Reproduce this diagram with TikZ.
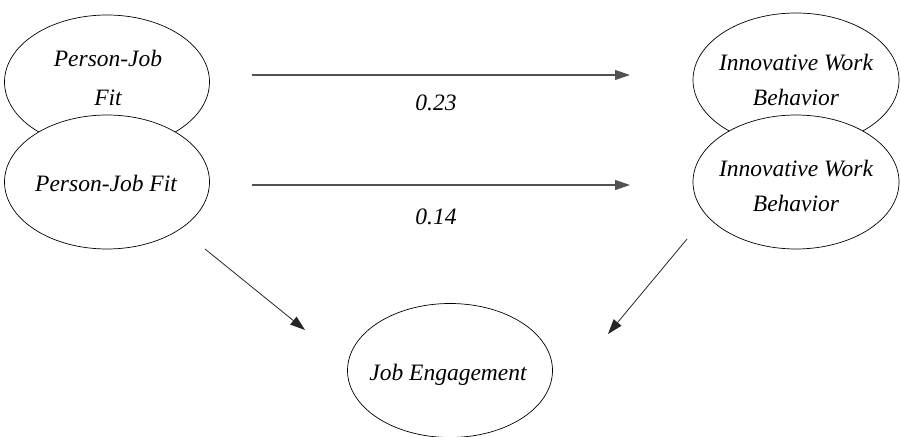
\documentclass[tikz,border=0pt]{standalone}
\usepackage{fontspec}
\setmainfont{Liberation Serif}
\usetikzlibrary{shapes.geometric,arrows.meta}
\tikzset{
  oval/.style={draw=black, line width=0.7pt, fill=white, ellipse, inner sep=0pt,
    minimum width=205pt, minimum height=134pt},
  txt/.style={align=center, inner sep=0pt, font=\fontsize{23.5}{39}\selectfont\itshape},
  txtr/.style={align=center, inner sep=0pt, font=\fontsize{23.5}{35}\selectfont\itshape},
  lbl/.style={font=\fontsize{23.5}{27}\selectfont\itshape, inner sep=0pt},
  harrow/.style={draw=black!68, line width=1.2pt, -{Triangle[length=15pt,width=10pt]}},
  darrow/.style={draw=black!85, line width=0.8pt, -{Triangle[length=15pt,width=10pt]}}
}
\begin{document}
\begin{tikzpicture}[x=1pt,y=1pt]
\useasboundingbox (0,0) rectangle (901,436);
% left ellipses
\node[oval] (pj1) at (107,354) {};
\node[txt] (pj1t) at (108,358) {Person-Job\\Fit};
\node[oval] (pj2) at (107,254) {};
\node[txt] (pj2t) at (106,253) {Person-Job Fit};
% right ellipses
\node[oval, minimum width=206pt] (iw1) at (796,356) {};
\node[txtr] (iw1t) at (796,356) {Innovative Work\\Behavior};
\node[oval, minimum width=206pt] (iw2) at (796,254) {};
\node[txtr] (iw2t) at (796,250) {Innovative Work\\Behavior};
% bottom ellipse
\node[oval] (je) at (450,65.5) {};
\node[txt] (jet) at (448,61) {Job Engagement};
% connector end points
\coordinate (a1s) at (252,361);
\coordinate (a1e) at (630,361);
\coordinate (a2s) at (252,251);
\coordinate (a2e) at (630,251);
\coordinate (d1s) at (205,187);
\coordinate (d1e) at (305,106);
\coordinate (d2s) at (687,197);
\coordinate (d2e) at (608,102);
\draw[harrow] (a1s) -- (a1e);
\draw[harrow] (a2s) -- (a2e);
\draw[darrow] (d1s) -- (d1e);
\draw[darrow] (d2s) -- (d2e);
% labels
\node[lbl] (l1) at (436,333) {0.23};
\node[lbl] (l2) at (436,219) {0.14};
\end{tikzpicture}
\end{document}
